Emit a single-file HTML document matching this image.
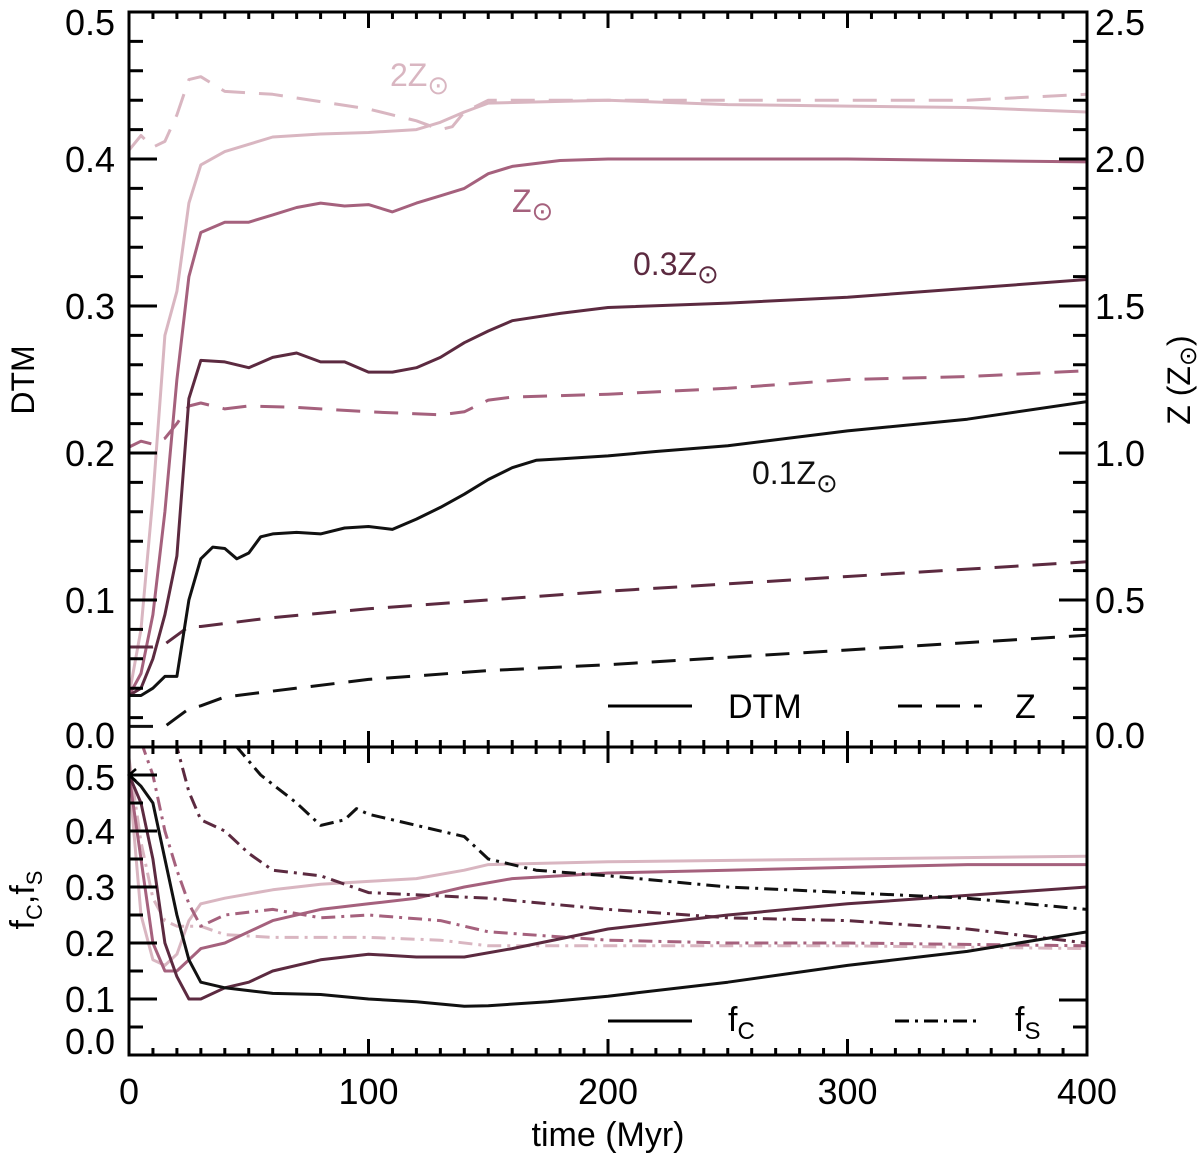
<!DOCTYPE html>
<html><head><meta charset="utf-8"><style>
html,body{margin:0;padding:0;background:#fff}
svg{display:block;font-family:"Liberation Sans",sans-serif}
</style></head><body>
<svg id="chart" width="1200" height="1160" viewBox="0 0 1200 1160">
<defs>
<clipPath id="ctop"><rect x="129" y="12" width="958" height="735"/></clipPath>
<clipPath id="cbot"><rect x="129" y="747" width="958" height="308"/></clipPath>
</defs>
<g id="marks"></g>
<g id="axes" stroke="#000" stroke-width="3" fill="none"></g>
<g id="labels" font-size="36" fill="#000"></g>
</svg>
<script>
const colors = ["#111111","#5c2a40","#a5617d","#d9b6c1"];
const dtmT = [
 [0,5,10,15,20,25,30,35,40,45,50,55,60,70,80,90,100,110,120,130,140,150,160,170,180,200,220,250,300,350,400],
 [0,5,10,15,20,25,30,40,50,60,70,80,90,100,110,120,130,140,150,160,180,200,250,300,350,400],
 [0,5,10,15,20,25,30,40,50,60,70,80,90,100,110,120,130,140,150,160,180,200,250,300,350,400],
 [0,5,10,15,20,25,30,40,50,60,70,80,100,120,130,140,150,200,250,300,350,400]];
const dtmV = [
 [0.035,0.035,0.04,0.048,0.048,0.1,0.128,0.136,0.135,0.128,0.132,0.143,0.145,0.146,0.145,0.149,0.15,0.148,0.155,0.163,0.172,0.182,0.19,0.195,0.196,0.198,0.201,0.205,0.215,0.223,0.235],
 [0.035,0.04,0.06,0.09,0.13,0.237,0.263,0.262,0.258,0.265,0.268,0.262,0.262,0.255,0.255,0.258,0.265,0.275,0.283,0.29,0.295,0.299,0.302,0.306,0.312,0.318],
 [0.035,0.05,0.09,0.16,0.25,0.32,0.35,0.357,0.357,0.362,0.367,0.37,0.368,0.369,0.364,0.37,0.375,0.38,0.39,0.395,0.399,0.4,0.4,0.4,0.399,0.398],
 [0.035,0.08,0.17,0.28,0.31,0.37,0.396,0.405,0.41,0.415,0.416,0.417,0.418,0.42,0.425,0.432,0.438,0.44,0.437,0.436,0.435,0.432]];
const zT = [
 [0,10,15,20,25,30,40,60,100,150,200,300,400],
 [0,10,15,20,25,30,60,100,150,200,300,400],
 [0,5,10,15,20,25,30,40,50,70,100,130,140,150,160,200,250,300,350,400],
 [0,5,10,15,20,25,30,40,60,100,120,130,135,140,150,200,250,300,350,400]];
const zV = [
 [0.07,0.07,0.07,0.1,0.13,0.14,0.17,0.19,0.23,0.26,0.28,0.33,0.38],
 [0.34,0.34,0.35,0.38,0.41,0.41,0.44,0.47,0.5,0.53,0.58,0.63],
 [1.02,1.04,1.03,1.05,1.1,1.16,1.17,1.15,1.16,1.155,1.14,1.13,1.14,1.18,1.19,1.2,1.22,1.25,1.26,1.28],
 [2.03,2.08,2.04,2.06,2.15,2.27,2.28,2.23,2.22,2.17,2.13,2.1,2.11,2.16,2.2,2.2,2.2,2.2,2.2,2.22]];
const fcT = [
 [0,5,10,15,20,25,30,40,50,60,80,100,120,140,150,175,200,250,300,350,400],
 [0,5,10,15,20,25,30,40,50,60,80,100,120,140,160,200,250,300,350,400],
 [0,5,10,15,20,25,30,40,60,80,100,120,140,160,200,250,300,350,400],
 [0,5,10,15,20,25,30,40,60,80,100,120,140,150,200,300,400]];
const fcV = [
 [0.5,0.48,0.45,0.35,0.25,0.17,0.13,0.12,0.115,0.11,0.108,0.1,0.095,0.087,0.088,0.095,0.105,0.13,0.16,0.185,0.22],
 [0.5,0.45,0.35,0.2,0.14,0.1,0.1,0.12,0.13,0.15,0.17,0.18,0.175,0.175,0.19,0.225,0.25,0.27,0.285,0.3],
 [0.5,0.35,0.2,0.15,0.15,0.17,0.19,0.2,0.24,0.26,0.27,0.28,0.3,0.315,0.325,0.33,0.335,0.34,0.34],
 [0.5,0.25,0.17,0.16,0.18,0.24,0.27,0.28,0.295,0.305,0.31,0.315,0.33,0.34,0.345,0.35,0.355]];
const fsT = [
 [40,45,55,70,80,90,95,100,120,140,150,170,200,250,300,350,400],
 [18,20,25,30,40,50,60,80,100,150,200,250,300,350,400],
 [5,10,15,20,25,30,40,60,80,100,130,150,200,250,300,400],
 [0,5,10,15,20,30,40,60,100,130,150,200,300,400]];
const fsV = [
 [0.6,0.55,0.5,0.45,0.41,0.42,0.44,0.43,0.41,0.39,0.35,0.33,0.32,0.3,0.29,0.28,0.26],
 [0.56,0.55,0.47,0.42,0.4,0.36,0.33,0.32,0.29,0.28,0.26,0.245,0.24,0.225,0.2],
 [0.56,0.5,0.4,0.33,0.27,0.23,0.25,0.26,0.245,0.25,0.24,0.22,0.205,0.2,0.2,0.195],
 [0.53,0.38,0.28,0.24,0.23,0.23,0.215,0.21,0.21,0.205,0.195,0.195,0.195,0.19]];
const xTicks = [0,100,200,300,400];
const dtmTicks = [0.0,0.1,0.2,0.3,0.4,0.5];
const zTicks = [0.0,0.5,1.0,1.5,2.0,2.5];
const fTicks = [0.0,0.1,0.2,0.3,0.4,0.5];

const X = t => 129 + t*(1087-129)/400;
const YT = v => 747 - v*1470;
const YZ = z => YT(z/5);
const YB = v => 1055 - v*560;
const NS = "http://www.w3.org/2000/svg";
const marks = document.getElementById('marks');
const axes = document.getElementById('axes');
const labels = document.getElementById('labels');
function mk(tag, attrs, parent){const e=document.createElementNS(NS,tag);for(const k in attrs)e.setAttribute(k,attrs[k]);parent.appendChild(e);return e;}
const topG = mk('g',{'clip-path':'url(#ctop)'},marks);
const botG = mk('g',{'clip-path':'url(#cbot)'},marks);
const names=['z01','z03','z1','z2'];
const DD='14,6,3,6';
function series(ts,vs,yf,parent,dash,nm){
  const d=ts.map((t,i)=>(i?'L':'M')+X(t).toFixed(1)+','+yf(vs[i]).toFixed(1)).join('');
  const p=mk('path',{d:d,fill:'none','stroke-width':3,'stroke-linejoin':'round'},parent);
  if(dash)p.setAttribute('stroke-dasharray',dash);
  
  
  return p;
}
for(let i=3;i>=0;i--){
  series(dtmT[i],dtmV[i],YT,topG,null,'dtm-line-'+names[i]).setAttribute('stroke',colors[i]);
  series(zT[i],zV[i],YZ,topG,'24,14','z-line-'+names[i]).setAttribute('stroke',colors[i]);
  series(fcT[i],fcV[i],YB,botG,null,'fc-line-'+names[i]).setAttribute('stroke',colors[i]);
  series(fsT[i],fsV[i],YB,botG,DD,'fs-line-'+names[i]).setAttribute('stroke',colors[i]);
}
mk('rect',{x:129,y:12,width:958,height:1043},axes);
mk('line',{x1:129,y1:747,x2:1087,y2:747},axes);
let tk='';
for(let t=0;t<=400;t+=10){const L=t%100===0?16:7;const x=X(t);
  tk+=`M${x},747v${-L}M${x},12v${L}M${x},747v${L}M${x},1055v${-L}`;}
for(let k=0;k<=25;k++){const v=k*0.02;const y=YT(v);const L=k%5===0?28:14;tk+=`M129,${y}h${L}`;}
for(let k=0;k<=25;k++){const y=YZ(k*0.1);const L=k%5===0?28:14;tk+=`M1087,${y}h${-L}`;}
for(let k=0;k<=11;k++){const y=YB(k*0.05);const L=k%2===0?28:14;tk+=`M129,${y}h${L}`;}
tk+='M1087,1000h-28M1087,1027h-14';
mk('path',{d:tk,'stroke-width':3},axes);
mk('path',{d:'M129,775h18M136,769l-7,6l7,6','stroke':'#000','stroke-width':2.5,fill:'none'},marks);
function txt(x,y,s,attrs,nm){const e=mk('text',Object.assign({x:x,y:y},attrs||{}),labels);e.innerHTML=s;return e;}
function ly(y,lo,hi){return Math.min(Math.max(y+13,lo),hi);}
dtmTicks.forEach(v=>txt(115,ly(YT(v),35,748),v.toFixed(1),{'text-anchor':'end'},'dtm-tick-label'));
zTicks.forEach(v=>txt(1095,ly(YZ(v),35,748),v.toFixed(1),{},'z-tick-label'));
fTicks.forEach(v=>txt(115,ly(YB(v),790,1054),v.toFixed(1),{'text-anchor':'end'},'f-tick-label'));
xTicks.forEach(t=>txt(X(t),1104,String(t),{'text-anchor':'middle'},'x-tick-label'));
txt(608,1146,'time (Myr)',{'text-anchor':'middle','font-size':34},'x-axis-title');
txt(0,0,'DTM',{'text-anchor':'middle','font-size':32,transform:'translate(34,380) rotate(-90)'},'dtm-axis-title');
txt(0,0,'f<tspan font-size="22" dy="8">C</tspan><tspan dy="-8">,f</tspan><tspan font-size="22" dy="8">S</tspan>',{'text-anchor':'middle','font-size':34,transform:'translate(34,900) rotate(-90)'},'f-axis-title');
txt(0,0,'Z (Z<tspan font-size="24" dy="6">⊙</tspan><tspan dy="-6">)</tspan>',{'text-anchor':'middle','font-size':32,transform:'translate(1190,380) rotate(-90)'},'z-axis-title');
const sun='Z<tspan font-size="26" dy="8">⊙</tspan>';
txt(390,86,'2'+sun,{fill:colors[3],'font-size':32},'label-2zsun');
txt(512,212,sun,{fill:colors[2],'font-size':32},'label-zsun');
txt(633,275,'0.3'+sun,{fill:colors[1],'font-size':32},'label-03zsun');
txt(752,484,'0.1'+sun,{fill:colors[0],'font-size':32},'label-01zsun');
mk('path',{d:'M608,706h84',stroke:'#000','stroke-width':3},marks);
mk('path',{d:'M898,706h84',stroke:'#000','stroke-width':3,'stroke-dasharray':'24,14'},marks);
mk('path',{d:'M608,1021h84',stroke:'#000','stroke-width':3},marks);
mk('path',{d:'M895,1021h84',stroke:'#000','stroke-width':3,'stroke-dasharray':DD},marks);
txt(728,718,'DTM',{'font-size':34},'legend-dtm');
txt(1015,718,'Z',{'font-size':34},'legend-z');
txt(728,1031,'f<tspan font-size="24" dy="8">C</tspan>',{'font-size':34},'legend-fc');
txt(1015,1031,'f<tspan font-size="24" dy="8">S</tspan>',{'font-size':34},'legend-fs');
</script>
</body></html>
